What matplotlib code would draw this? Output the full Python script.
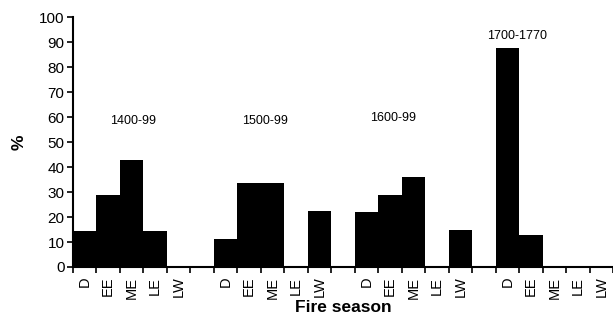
import numpy as np
import matplotlib.pyplot as plt

plt.rcParams['font.family'] = ['Liberation Sans', 'DejaVu Sans']

seasons = ['D', 'EE', 'ME', 'LE', 'LW']
periods = ['1400-99', '1500-99', '1600-99', '1700-1770']
vals_1400 = [14.5, 28.8, 43.0, 14.5, 0]
vals_1500 = [11.3, 33.6, 33.6, 0, 22.5]
vals_1600 = [21.9, 28.9, 36.0, 0, 14.7]
vals_1700 = [87.7, 12.8, 0, 0, 0]
label_pos = [(2.55, 58.5), (8.2, 58.5), (13.65, 59.5), (18.9, 92.5)]

fig = plt.figure(figsize=(6.13, 3.23), dpi=100)
ax = fig.add_axes([0.119, 0.1734, 0.881, 0.7736])

all_vals = [vals_1400, vals_1500, vals_1600, vals_1700]
centers = []
labels = []
for g, vals in enumerate(all_vals):
    x = np.arange(5) + g * 6 + 0.5
    ax.bar(x, vals, width=1.0, color='black', edgecolor='black', linewidth=0)
    centers.extend(x)
    labels.extend(seasons)
    ax.text(label_pos[g][0], label_pos[g][1], periods[g], ha='center', va='center', fontsize=9)

ax.set_xlim(0, 23)
ax.set_ylim(0, 100)
ax.set_yticks(range(0, 101, 10))
ax.tick_params(axis='y', labelsize=11, length=4, width=1.2, direction='out', pad=2)

# ticks at category boundaries, labels at centers
ax.set_xticks(np.arange(0, 24), minor=False)
ax.set_xticklabels([])
ax.set_xticks(centers, minor=True)
ax.set_xticklabels(labels, minor=True, rotation=90, fontsize=10.5)
ax.tick_params(axis='x', which='major', length=4, width=1.2)
ax.tick_params(axis='x', which='minor', length=0, pad=7)

for s in ['top', 'right']:
    ax.spines[s].set_visible(False)
for s in ['left', 'bottom']:
    ax.spines[s].set_linewidth(1.5)

ax.set_ylabel('%', fontsize=12.5, fontweight='bold', labelpad=9)
ax.set_xlabel('Fire season', fontsize=12.5, fontweight='bold', labelpad=1)

fig.savefig('out.png', dpi=100)
